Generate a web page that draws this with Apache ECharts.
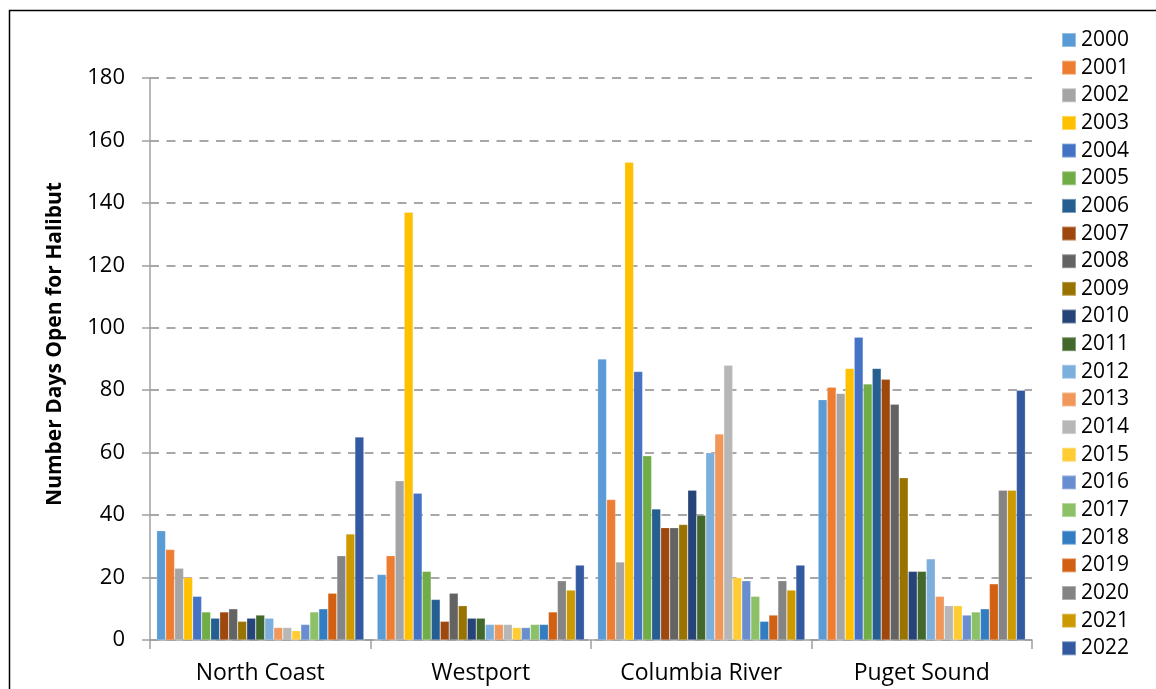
<!DOCTYPE html>
<html><head><meta charset="utf-8">
<script src="https://cdn.jsdelivr.net/npm/echarts@6/dist/echarts.min.js"></script>
<style>html,body{margin:0;padding:0;background:#fff}#c{width:1156px;height:689px}</style>
</head><body><div id="c"></div>
<script>
const categories = ['North Coast', 'Westport', 'Columbia River', 'Puget Sound'];
const years = ['2000','2001','2002','2003','2004','2005','2006','2007','2008','2009','2010','2011','2012','2013','2014','2015','2016','2017','2018','2019','2020','2021','2022'];
// values per year: [North Coast, Westport, Columbia River, Puget Sound]
const y2000 = [35, 21, 90, 77];
const y2001 = [29, 27, 45, 81];
const y2002 = [23, 51, 25, 79];
const y2003 = [20, 137, 153, 87];
const y2004 = [14, 47, 86, 97];
const y2005 = [9, 22, 59, 82];
const y2006 = [7, 13, 42, 87];
const y2007 = [9, 6, 36, 83.5];
const y2008 = [10, 15, 36, 75.5];
const y2009 = [6, 11, 37, 52];
const y2010 = [7, 7, 48, 22];
const y2011 = [8, 7, 40, 22];
const y2012 = [7, 5, 60, 26];
const y2013 = [4, 5, 66, 14];
const y2014 = [4, 5, 88, 11];
const y2015 = [3, 4, 20, 11];
const y2016 = [5, 4, 19, 8];
const y2017 = [9, 5, 14, 9];
const y2018 = [10, 5, 6, 10];
const y2019 = [15, 9, 8, 18];
const y2020 = [27, 19, 19, 48];
const y2021 = [34, 16, 16, 48];
const y2022 = [65, 24, 24, 80];
const seriesValues = [y2000,y2001,y2002,y2003,y2004,y2005,y2006,y2007,y2008,y2009,y2010,y2011,y2012,y2013,y2014,y2015,y2016,y2017,y2018,y2019,y2020,y2021,y2022];
const yTicks = [0, 20, 40, 60, 80, 100, 120, 140, 160, 180];

const colors = ['#5B9BD5','#ED7D31','#A5A5A5','#FFC000','#4472C4','#70AD47','#255E91','#9E480E','#636363','#997300','#264478','#43682B','#7CAFDD','#F1975A','#B7B7B7','#FFCD33','#698ED0','#8CC168','#327DC2','#D26012','#848484','#CC9A00','#335AA1'];
const FONT = 'Open Sans';

const chart = echarts.init(document.getElementById('c'));
chart.setOption({
  animation: false,
  color: colors,
  textStyle: { fontFamily: FONT },
  grid: { left: 150, right: 124, top: 78, bottom: 49, containLabel: false },
  legend: {
    orient: 'vertical', left: 1061, top: 29.5, padding: 0,
    itemWidth: 14, itemHeight: 14, itemGap: 6.65,
    icon: 'rect',
    textStyle: { fontFamily: FONT, fontSize: 21, lineHeight: 20, color: '#000' },
    data: years
  },
  xAxis: {
    type: 'category', data: categories,
    axisLine: { lineStyle: { color: '#A0A0A0', width: 1.5 } },
    axisTick: { show: true, length: 9, lineStyle: { color: '#A0A0A0', width: 1.5 } },
    axisLabel: { fontFamily: FONT, fontSize: 23, color: '#000', margin: 22 }
  },
  yAxis: {
    type: 'value', min: 0, max: 180, interval: 20,
    axisLine: { show: true, lineStyle: { color: '#A0A0A0', width: 1.5 } },
    axisTick: { show: true, length: 8, lineStyle: { color: '#A0A0A0', width: 1.5 } },
    axisLabel: { fontFamily: FONT, fontSize: 22, color: '#000', margin: 25,
      formatter: v => yTicks.includes(v) ? String(v) : '' },
    splitLine: { show: true, lineStyle: { color: '#8C8C8C', width: 1.5, type: [9, 7.5] } }
  },
  graphic: [
    { type: 'rect', left: 7, top: 8, shape: { width: 1170, height: 700 }, silent: true,
      style: { fill: 'none', stroke: '#000', lineWidth: 1.5 } },
    { type: 'text', x: 55, y: 344, rotation: Math.PI / 2, silent: true,
      style: { text: 'Number Days Open for Halibut', font: 'bold 21px "Open Sans"', fill: '#000',
        align: 'center', verticalAlign: 'middle' } }
  ],
  series: years.map((yr, i) => ({
    name: yr, type: 'bar', data: seriesValues[i],
    barGap: '0%', barCategoryGap: '6%',
    itemStyle: { color: colors[i], borderColor: 'rgba(255,255,255,0.35)', borderWidth: 0.6 }
  }))
});
</script></body></html>
